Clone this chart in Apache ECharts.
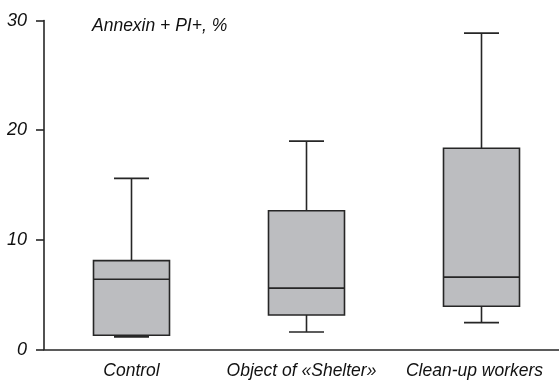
<!DOCTYPE html>
<html>
<head>
<meta charset="utf-8">
<script src="https://cdn.jsdelivr.net/npm/echarts@6/dist/echarts.min.js"></script>
<style>
  html, body { margin: 0; padding: 0; background: #fff; }
  #chart { width: 559px; height: 382px; }
</style>
</head>
<body>
<div id="chart"></div>
<script>
// Groups and their box-plot statistics (Annexin + PI+, %)
var categories = ['Control', 'Object of «Shelter»', 'Clean-up workers'];
var lowWhisker = [1.15, 1.6, 2.45];
var lowerQuartile = [1.3, 3.15, 3.95];
var medians = [6.4, 5.6, 6.6];
var upperQuartile = [8.1, 12.65, 18.35];
var highWhisker = [15.6, 19.0, 28.85];
var yTicks = [0, 10, 20, 30];

var FONT = '"Liberation Sans", Arial, sans-serif';
var BOX_WIDTH = 76;
var CAP_WIDTH = 35;
var INK = '#262626';
var TEXT = '#111';

var rows = categories.map(function (c, i) {
  return [i, lowWhisker[i], lowerQuartile[i], medians[i], upperQuartile[i], highWhisker[i]];
});

function renderBox(params, api) {
  var i = api.value(0);
  var pMin = api.coord([i, api.value(1)]);
  var pQ1 = api.coord([i, api.value(2)]);
  var pMed = api.coord([i, api.value(3)]);
  var pQ3 = api.coord([i, api.value(4)]);
  var pMax = api.coord([i, api.value(5)]);
  var cx = pMed[0];
  var hb = BOX_WIDTH / 2, hc = CAP_WIDTH / 2;
  var lineStyle = { stroke: INK, lineWidth: 1.6 };
  return {
    type: 'group',
    children: [
      { type: 'line', shape: { x1: cx, y1: pQ3[1], x2: cx, y2: pMax[1] }, style: lineStyle },
      { type: 'line', shape: { x1: cx - hc, y1: pMax[1], x2: cx + hc, y2: pMax[1] }, style: lineStyle },
      { type: 'line', shape: { x1: cx, y1: pQ1[1], x2: cx, y2: pMin[1] }, style: lineStyle },
      { type: 'line', shape: { x1: cx - hc, y1: pMin[1], x2: cx + hc, y2: pMin[1] }, style: lineStyle },
      {
        type: 'rect',
        shape: { x: cx - hb, y: pQ3[1], width: BOX_WIDTH, height: pQ1[1] - pQ3[1] },
        style: { fill: '#bcbdc0', stroke: INK, lineWidth: 1.6 }
      },
      { type: 'line', shape: { x1: cx - hb, y1: pMed[1], x2: cx + hb, y2: pMed[1] }, style: lineStyle }
    ]
  };
}

var chart = echarts.init(document.getElementById('chart'), null, { renderer: 'canvas' });
chart.setOption({
  animation: false,
  backgroundColor: '#fff',
  grid: {
    left: 44, width: 525, top: 20.5, bottom: 32.5,
    containLabel: false,
    outerBoundsMode: 'none'
  },
  graphic: [{
    type: 'text',
    x: 92,
    y: 26,
    style: {
      text: 'Annexin + PI+, %',
      font: 'italic 17.5px ' + FONT,
      fill: TEXT,
      textVerticalAlign: 'middle'
    }
  }],
  xAxis: {
    type: 'category',
    data: categories,
    boundaryGap: true,
    axisLine: { lineStyle: { color: INK, width: 1.6 } },
    axisTick: { alignWithLabel: true, length: 8, lineStyle: { color: INK, width: 1.6 } },
    axisLabel: {
      margin: 13,
      fontFamily: FONT,
      fontStyle: 'italic',
      fontSize: 17.5,
      color: TEXT,
      interval: 0,
      formatter: function (v, idx) {
        return idx === 0 ? '{a|' + v + '}' : (idx === 1 ? '{b|' + v + '}' : '{c|' + v + '}');
      },
      rich: {
        a: { fontFamily: FONT, fontStyle: 'italic', fontSize: 17.5, color: TEXT },
        b: { fontFamily: FONT, fontStyle: 'italic', fontSize: 17.5, color: TEXT, padding: [0, 10, 0, 0] },
        c: { fontFamily: FONT, fontStyle: 'italic', fontSize: 17.5, color: TEXT, padding: [0, 14, 0, 0] }
      }
    },
    splitLine: { show: false }
  },
  yAxis: {
    type: 'value',
    min: yTicks[0],
    max: yTicks[yTicks.length - 1],
    interval: 10,
    axisLine: { show: true, lineStyle: { color: INK, width: 1.6 } },
    axisTick: { show: true, length: 8, lineStyle: { color: INK, width: 1.6 } },
    axisLabel: {
      margin: 17,
      fontFamily: FONT,
      fontStyle: 'italic',
      fontSize: 18,
      color: TEXT
    },
    splitLine: { show: false }
  },
  series: [{
    type: 'custom',
    renderItem: renderBox,
    encode: { x: 0, y: [1, 2, 3, 4, 5] },
    data: rows,
    clip: false
  }]
});
</script>
</body>
</html>
